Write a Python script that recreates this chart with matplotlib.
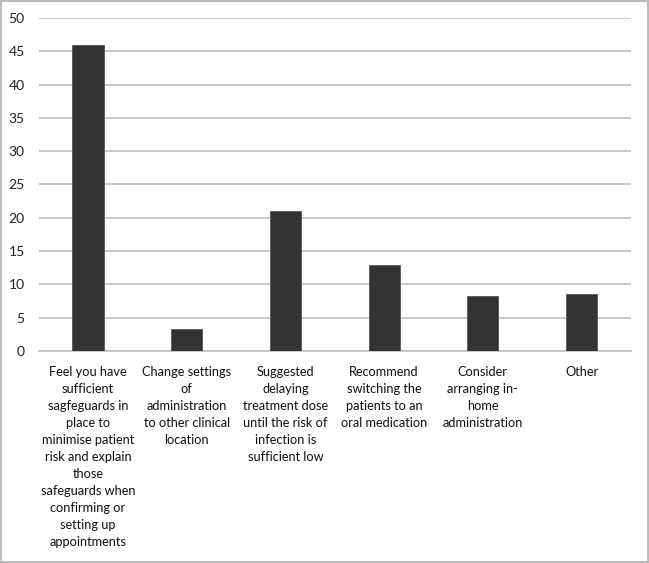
import matplotlib
matplotlib.use("Agg")
import matplotlib.pyplot as plt
from matplotlib.patches import Rectangle

categories = [
    "Feel you have\nsufficient\nsagfeguards in\nplace to\nminimise patient\nrisk and explain\nthose\nsafeguards when\nconfirming or\nsetting up\nappointments",
    "Change settings\nof\nadministration\nto other clinical\nlocation",
    "Suggested\ndelaying\ntreatment dose\nuntil the risk of\ninfection is\nsufficient low",
    "Recommend\nswitching the\npatients to an\noral medication",
    "Consider\narranging in-\nhome\nadministration",
    "Other",
]
values = [46, 3.35, 21, 12.9, 8.2, 8.6]
yticks = [0, 5, 10, 15, 20, 25, 30, 35, 40, 45, 50]

plt.rcParams['font.family'] = ['Lato', 'DejaVu Sans']

fig = plt.figure(figsize=(6.49, 5.63), dpi=100)
ax = fig.add_axes([0.0596, 0.3766, 0.9124, 0.5914])

x = list(range(len(categories)))
ax.bar(x, values, width=0.315, color="#333333", edgecolor="#555555", linewidth=0.6, zorder=3)
ax.set_xlim(-0.5, len(categories) - 0.5)
ax.set_ylim(0, 50)
ax.set_yticks(yticks)
ax.set_yticklabels([str(v) for v in yticks], fontsize=10, color="#222222")
ax.set_xticks(x)
ax.set_xticklabels(categories, fontsize=9.2, color="#111111", linespacing=1.5, va="top")
ax.tick_params(axis="both", length=0)
ax.tick_params(axis="y", pad=10)
ax.tick_params(axis="x", pad=11)
ax.yaxis.grid(True, color="#c0c0c0", linewidth=1.2, zorder=0)
for s in ["top", "right", "left"]:
    ax.spines[s].set_visible(False)
ax.spines["bottom"].set_color("#c0c0c0")
ax.spines["bottom"].set_linewidth(1.2)

fig.patches.append(Rectangle((0.002, 0.002), 0.996, 0.996, transform=fig.transFigure,
                             fill=False, edgecolor="#bbbbbb", linewidth=1.5))

fig.savefig("out.png", dpi=100)
